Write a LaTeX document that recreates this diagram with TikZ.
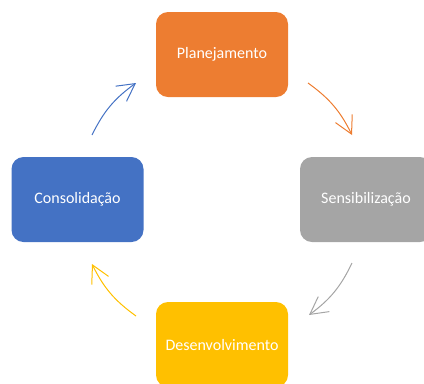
\documentclass[tikz,border=0pt]{standalone}
\usepackage{fontspec}
\setmainfont{Carlito}
\usetikzlibrary{arrows.meta}
\definecolor{planorange}{HTML}{ED7D31}
\definecolor{sensgray}{HTML}{A5A5A5}
\definecolor{desenyellow}{HTML}{FFC000}
\definecolor{consblue}{HTML}{4472C4}

\begin{document}
\begin{tikzpicture}[x=0.75pt,y=-0.75pt,every node/.style={font=\fontsize{12}{14}\selectfont,text=white},phase/.style={rounded corners=9pt,minimum width=99pt,minimum height=63.75pt,inner sep=0pt},cyclearrow/.style={-{Straight Barb[length=13pt,width=14pt]},line width=0.75pt,bend left=14}]
\useasboundingbox (0,0) rectangle (424,383);
\node (plan) at (222,54.5) [phase,fill=planorange] {Planejamento};
\node (sens) at (366,199.5) [phase,fill=sensgray] {Sensibilização};
\node (desen) at (222,344.5) [phase,fill=desenyellow] {Desenvolvimento};
\node (cons) at (77.5,199.5) [phase,fill=consblue] {Consolidação};
% free ends of the cycle arrows
\coordinate (plan-a) at (308,83);
\coordinate (plan-b) at (352,135);
\coordinate (sens-a) at (352,263);
\coordinate (sens-b) at (309,315);
\coordinate (desen-a) at (136,316);
\coordinate (desen-b) at (92,264);
\coordinate (cons-a) at (92,135);
\coordinate (cons-b) at (136,83);
\draw [cyclearrow,color=planorange] (plan-a) to (plan-b);
\draw [cyclearrow,color=sensgray] (sens-a) to (sens-b);
\draw [cyclearrow,color=desenyellow] (desen-a) to (desen-b);
\draw [cyclearrow,color=consblue] (cons-a) to (cons-b);
\end{tikzpicture}
\end{document}
